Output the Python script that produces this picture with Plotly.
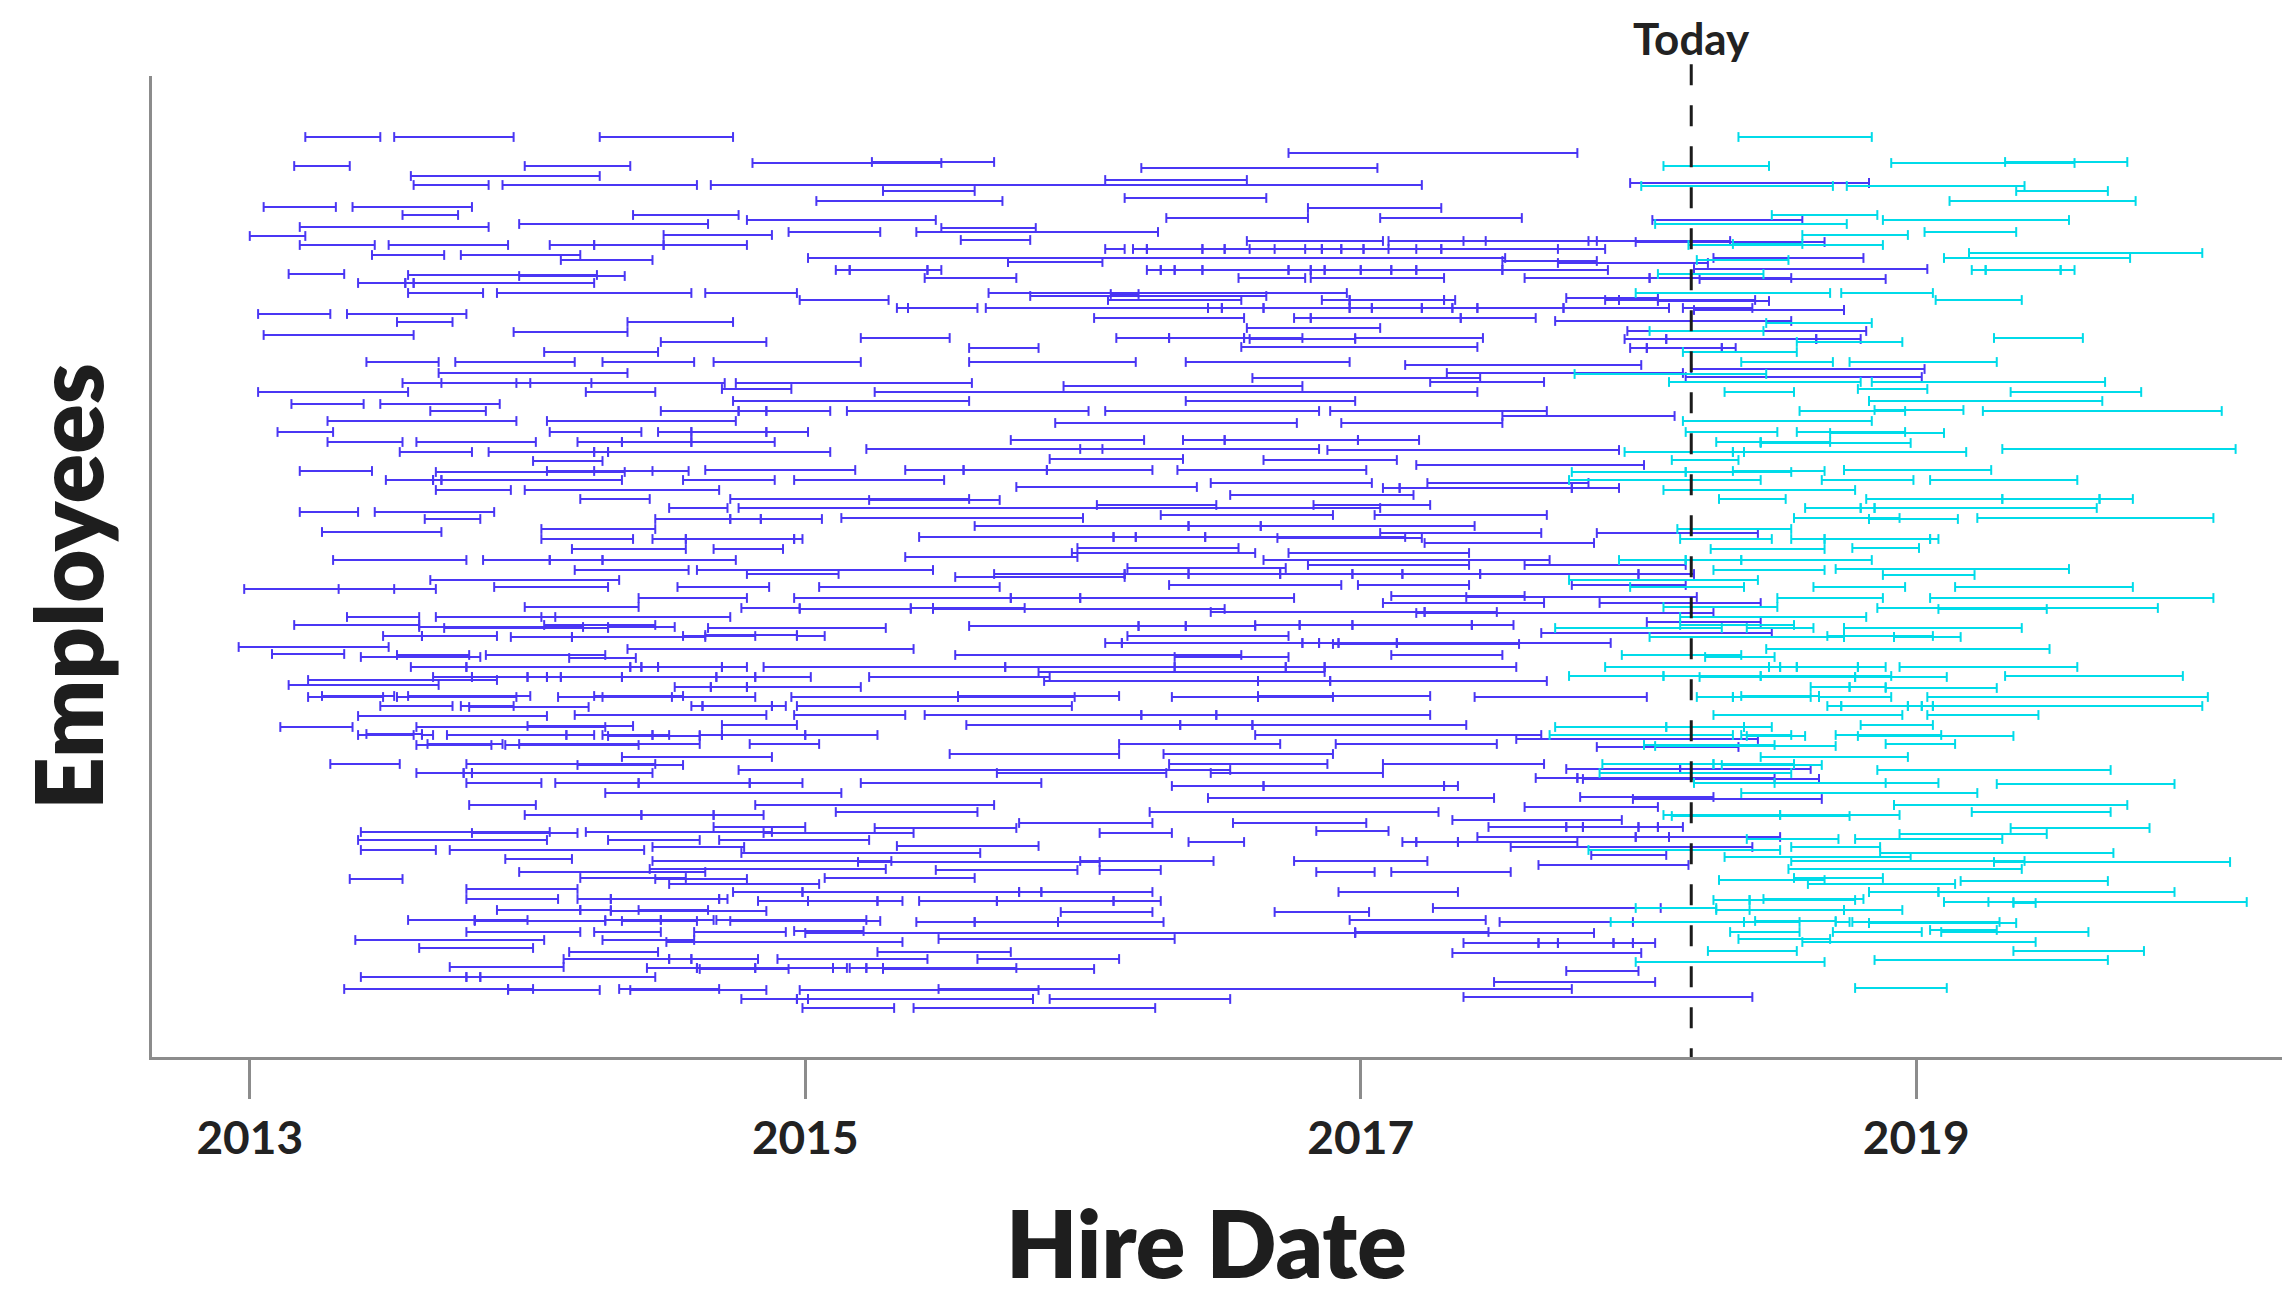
import plotly.graph_objects as go

# each tuple: (employee position, hire date, leave date) in decimal years
blue_top = [
    (92.0, 2013.20, 2013.47), (92.0, 2013.52, 2013.95), (92.0, 2014.26, 2014.74),
    (90.4, 2016.74, 2017.78), (89.4, 2014.81, 2015.49), (89.5, 2015.24, 2015.68),
    (89.1, 2013.16, 2013.36), (89.1, 2013.99, 2014.37), (88.9, 2016.21, 2017.06),
    (88.1, 2013.58, 2014.26), (87.7, 2016.08, 2016.59), (87.2, 2013.59, 2013.86),
    (87.2, 2013.91, 2014.61), (87.2, 2014.66, 2017.22), (87.4, 2017.97, 2018.83),
    (86.6, 2015.28, 2015.61), (85.9, 2016.15, 2016.66), (85.6, 2015.04, 2015.71),
    (85.0, 2013.05, 2013.31), (85.0, 2013.37, 2013.80), (84.9, 2016.81, 2017.29),
    (84.2, 2013.55, 2013.75), (84.2, 2014.38, 2014.76), (83.9, 2016.30, 2016.81),
    (83.9, 2017.07, 2017.58), (83.7, 2014.79, 2015.47), (83.7, 2018.05, 2018.59),
    (83.3, 2013.97, 2014.65), (83.0, 2013.18, 2013.86), (82.9, 2015.49, 2015.83),
    (82.5, 2014.94, 2015.27), (82.5, 2015.40, 2016.27), (82.2, 2014.49, 2014.88),
    (82.1, 2013.00, 2013.20), (81.7, 2015.56, 2015.81), (81.6, 2016.59, 2017.08),
    (81.6, 2017.10, 2017.45), (81.6, 2017.37, 2017.85), (81.6, 2017.82, 2018.33),
    (81.5, 2017.99, 2018.67), (81.2, 2013.18, 2013.45), (81.2, 2013.50, 2013.93),
    (81.2, 2014.08, 2014.24), (81.2, 2014.24, 2014.49), (81.2, 2014.49, 2014.79),
    (80.8, 2016.08, 2016.15), (80.8, 2016.18, 2016.23), (80.8, 2016.23, 2016.43),
    (80.8, 2016.43, 2016.51), (80.8, 2016.51, 2016.69), (80.8, 2016.60, 2016.86),
    (80.8, 2016.86, 2016.93), (80.8, 2016.93, 2017.01), (80.8, 2017.01, 2017.10),
    (80.8, 2016.80, 2017.29), (80.8, 2017.29, 2017.71), (80.8, 2017.20, 2017.88),
    (79.9, 2018.27, 2018.81), (80.2, 2013.44, 2013.70), (80.2, 2013.76, 2014.19),
    (79.9, 2015.01, 2017.52), (79.7, 2014.12, 2014.45), (79.5, 2015.73, 2016.07),
    (79.6, 2017.51, 2017.85), (79.4, 2017.71, 2018.25), (78.7, 2015.11, 2015.16),
    (78.7, 2015.16, 2015.44), (78.7, 2015.44, 2015.49), (78.7, 2016.23, 2016.28),
    (78.7, 2016.28, 2016.33), (78.7, 2016.33, 2016.43), (78.7, 2016.43, 2016.74),
    (78.7, 2016.74, 2016.82), (78.7, 2016.82, 2016.87), (78.7, 2016.87, 2017.00),
    (78.7, 2017.00, 2017.11), (78.7, 2017.11, 2017.20), (78.7, 2017.20, 2017.51),
    (78.7, 2017.51, 2017.89), (78.8, 2018.20, 2019.04), (78.3, 2013.14, 2013.34),
    (78.2, 2013.57, 2014.25), (78.1, 2013.97, 2014.35), (77.9, 2015.43, 2015.76),
    (77.9, 2016.56, 2016.80), (77.9, 2016.82, 2017.30), (77.9, 2017.59, 2018.04),
    (77.9, 2018.04, 2018.55), (77.8, 2018.22, 2018.89), (77.4, 2013.39, 2013.56),
    (77.4, 2013.56, 2013.59), (77.4, 2013.59, 2014.24), (76.4, 2013.57, 2013.84),
    (76.4, 2013.89, 2014.59), (76.4, 2014.64, 2014.97), (76.4, 2015.66, 2016.95),
    (76.1, 2015.81, 2016.66), (76.3, 2016.10, 2016.20), (75.7, 2014.98, 2015.30),
    (75.7, 2016.09, 2016.57), (75.7, 2016.86, 2016.96), (75.7, 2016.96, 2017.30),
    (75.7, 2017.30, 2017.34), (75.9, 2017.74, 2018.07), (75.7, 2017.88, 2017.93),
    (75.7, 2017.93, 2018.42), (75.6, 2018.07, 2018.47), (74.9, 2015.33, 2015.37),
    (74.9, 2015.37, 2015.62), (74.9, 2015.65, 2016.45), (74.9, 2016.45, 2016.50),
    (74.9, 2016.50, 2016.65), (74.9, 2016.65, 2016.96), (74.9, 2016.96, 2017.04),
    (74.9, 2017.04, 2017.22), (74.9, 2017.22, 2017.33), (74.9, 2017.33, 2017.42),
    (74.9, 2017.42, 2017.73), (74.9, 2017.73, 2018.11), (74.9, 2018.16, 2018.41),
    (74.7, 2018.20, 2018.74), (74.3, 2013.03, 2013.29), (74.3, 2013.35, 2013.78),
    (73.9, 2016.04, 2016.58), (73.9, 2016.76, 2016.82), (73.9, 2016.82, 2017.36),
    (73.9, 2017.36, 2017.63), (73.6, 2017.70, 2018.55), (73.5, 2013.53, 2013.73),
    (73.5, 2014.36, 2014.74), (72.9, 2016.59, 2017.07), (72.6, 2017.96, 2018.82),
    (72.5, 2013.95, 2014.36), (72.2, 2013.05, 2013.59), (71.5, 2014.48, 2014.86),
    (71.9, 2015.20, 2015.52), (71.9, 2016.12, 2016.31), (71.9, 2016.31, 2016.58),
    (71.9, 2016.58, 2016.79), (71.8, 2016.60, 2016.98), (71.9, 2016.98, 2017.44),
    (71.8, 2017.95, 2018.10), (71.8, 2018.10, 2018.64), (71.8, 2018.64, 2018.80),
    (70.9, 2015.59, 2015.84), (71.0, 2016.57, 2017.42), (70.9, 2017.97, 2018.03),
    (70.9, 2018.03, 2018.30), (70.9, 2018.30, 2018.35), (70.5, 2014.06, 2014.47),
    (69.5, 2013.42, 2013.68), (69.5, 2013.74, 2014.17), (69.5, 2014.27, 2014.60),
    (69.5, 2014.67, 2015.20), (69.5, 2015.59, 2016.19), (69.5, 2016.37, 2016.96),
    (69.2, 2017.16, 2018.01), (68.4, 2013.68, 2014.36), (68.8, 2018.19, 2019.03),
    (68.4, 2017.31, 2018.16), (68.0, 2018.17, 2019.02), (67.9, 2016.61, 2017.43),
    (67.4, 2013.55, 2013.96), (67.4, 2013.69, 2014.23), (67.4, 2014.01, 2014.71),
    (67.4, 2014.75, 2015.60), (67.5, 2017.25, 2017.66), (66.8, 2014.70, 2014.95),
    (66.5, 2013.03, 2013.57), (66.5, 2014.21, 2014.46), (67.1, 2015.93, 2016.79),
    (66.5, 2015.25, 2017.42), (65.6, 2014.74, 2015.59), (65.6, 2016.37, 2016.98),
    (65.3, 2013.15, 2013.41), (65.3, 2013.47, 2013.90), (64.6, 2013.65, 2013.85),
    (64.6, 2014.48, 2014.76), (64.6, 2014.76, 2014.86), (64.6, 2014.86, 2015.09),
    (64.6, 2015.15, 2016.02), (64.6, 2016.08, 2016.85), (64.6, 2016.89, 2017.67),
    (64.1, 2017.51, 2018.13), (63.6, 2013.28, 2013.96), (63.6, 2014.07, 2014.75),
    (63.4, 2015.90, 2016.77), (63.4, 2016.93, 2017.51),
]

blue_mid = [
    (62.5, 2013.10, 2013.30), (62.5, 2014.08, 2014.41), (62.5, 2014.47, 2014.59),
    (62.5, 2014.59, 2014.86), (62.5, 2014.86, 2015.01), (61.7, 2015.74, 2016.22),
    (61.7, 2016.36, 2016.51), (61.7, 2016.51, 2016.99), (61.7, 2016.99, 2017.21),
    (61.5, 2013.28, 2013.55), (61.5, 2013.60, 2014.03), (61.5, 2014.18, 2014.34),
    (61.5, 2014.34, 2014.59), (61.5, 2014.59, 2014.89), (60.8, 2015.22, 2016.07),
    (60.8, 2015.99, 2016.85), (60.7, 2016.88, 2017.93), (60.5, 2013.54, 2013.80),
    (60.5, 2013.86, 2014.24), (60.5, 2014.24, 2014.29), (60.5, 2014.29, 2015.09),
    (59.8, 2015.88, 2016.36), (59.7, 2016.65, 2017.13), (59.6, 2014.02, 2014.27),
    (59.2, 2017.20, 2018.02), (58.6, 2013.18, 2013.44), (58.5, 2013.67, 2014.35),
    (58.6, 2014.07, 2014.45), (58.6, 2014.24, 2014.58), (58.7, 2014.64, 2015.18),
    (58.7, 2015.36, 2015.57), (58.7, 2015.57, 2015.87), (58.7, 2015.87, 2016.25),
    (58.7, 2016.34, 2017.02), (57.7, 2013.49, 2013.66), (57.7, 2013.66, 2013.69),
    (57.7, 2013.69, 2014.34), (57.7, 2014.56, 2014.89), (57.7, 2014.96, 2015.50),
    (57.4, 2016.46, 2017.04), (57.4, 2017.24, 2017.82), (57.0, 2015.76, 2016.41),
    (56.9, 2017.08, 2017.14), (56.9, 2017.14, 2017.76), (56.9, 2017.76, 2017.93),
    (56.7, 2013.67, 2013.94), (56.7, 2013.99, 2014.69), (56.2, 2016.53, 2017.19),
    (55.8, 2014.19, 2014.44), (55.8, 2014.73, 2015.59), (55.7, 2015.23, 2015.70),
    (55.2, 2016.05, 2016.48), (55.2, 2016.83, 2017.25), (54.9, 2014.51, 2014.72),
    (54.9, 2014.76, 2017.07), (54.5, 2013.18, 2013.39), (54.5, 2013.45, 2013.88),
    (54.2, 2016.28, 2016.90), (54.2, 2017.05, 2017.67), (53.8, 2013.63, 2013.83),
    (53.8, 2014.46, 2014.73), (53.8, 2014.73, 2014.84), (53.8, 2014.84, 2015.06),
    (53.9, 2015.13, 2016.00), (53.1, 2015.61, 2016.38), (53.1, 2016.38, 2016.64),
    (53.1, 2016.64, 2017.41), (52.8, 2014.05, 2014.46), (52.5, 2013.26, 2013.69),
    (52.4, 2017.07, 2017.65), (52.4, 2017.85, 2018.43), (52.0, 2015.41, 2016.11),
    (52.0, 2016.11, 2016.19), (52.0, 2016.19, 2016.44), (52.0, 2016.44, 2017.16),
    (51.9, 2016.70, 2017.22), (51.8, 2014.05, 2014.38), (51.8, 2014.45, 2014.57),
    (51.8, 2014.57, 2014.96), (51.8, 2014.96, 2014.99), (51.4, 2017.23, 2017.84),
    (50.8, 2014.16, 2014.57), (50.8, 2014.67, 2014.92), (50.9, 2015.98, 2016.56),
    (50.4, 2015.96, 2016.62), (50.4, 2016.74, 2017.39), (50.0, 2015.36, 2015.98),
    (49.7, 2013.30, 2013.78), (49.7, 2013.84, 2014.08), (49.7, 2014.08, 2014.27),
    (49.7, 2014.27, 2014.75), (49.7, 2016.65, 2017.68), (49.2, 2016.81, 2017.39),
    (49.2, 2017.59, 2018.17), (48.9, 2016.16, 2016.73), (48.7, 2014.17, 2014.58),
    (48.7, 2014.61, 2015.46), (48.3, 2014.79, 2015.12), (48.3, 2015.68, 2016.15),
    (48.0, 2015.54, 2016.15), (48.3, 2016.15, 2016.38), (48.3, 2016.38, 2016.71),
    (48.3, 2016.71, 2016.97), (48.3, 2016.97, 2017.15), (48.3, 2017.15, 2017.43),
    (48.3, 2017.43, 2018.00), (48.3, 2018.00, 2018.20), (47.7, 2013.65, 2014.33),
    (47.0, 2013.88, 2014.29), (46.8, 2012.98, 2013.52), (46.8, 2013.32, 2013.67),
    (47.0, 2014.54, 2014.87), (47.0, 2015.05, 2015.70), (47.2, 2016.31, 2016.93),
    (47.2, 2016.99, 2017.39), (47.2, 2017.76, 2018.17), (45.9, 2014.40, 2014.79),
    (45.9, 2014.96, 2015.74), (45.9, 2015.74, 2015.99), (45.9, 2015.99, 2016.76),
    (46.1, 2017.11, 2017.59), (46.0, 2017.38, 2018.21), (45.4, 2017.08, 2017.66),
    (45.4, 2017.86, 2018.44), (45.0, 2013.99, 2014.40), (44.9, 2014.77, 2014.98),
    (44.8, 2014.98, 2015.38), (44.9, 2015.38, 2015.46), (44.9, 2015.46, 2015.79),
    (44.8, 2015.46, 2016.51), (44.5, 2016.46, 2017.23), (44.5, 2017.23, 2017.49),
    (44.4, 2017.20, 2018.27), (44.0, 2013.35, 2013.61), (44.0, 2013.67, 2014.10),
    (44.0, 2014.05, 2014.73), (43.2, 2013.16, 2013.61), (43.0, 2013.61, 2014.20),
    (42.9, 2013.70, 2014.29), (43.2, 2014.06, 2014.46), (43.0, 2014.29, 2014.53),
    (42.9, 2014.65, 2015.29), (43.1, 2015.59, 2016.20), (43.1, 2016.20, 2016.37),
    (43.1, 2016.37, 2016.62), (43.2, 2016.62, 2016.78), (43.2, 2016.78, 2016.97),
    (43.2, 2016.97, 2017.40), (43.2, 2017.40, 2017.55), (43.5, 2018.03, 2018.44),
    (42.4, 2017.65, 2018.48), (42.1, 2013.48, 2013.62), (42.1, 2013.62, 2013.89),
    (42.0, 2013.94, 2014.16), (42.0, 2014.16, 2014.64), (42.1, 2014.56, 2014.82),
    (42.2, 2014.64, 2014.97), (42.1, 2014.97, 2015.07), (42.1, 2016.16, 2016.74),
    (41.4, 2016.08, 2016.14), (41.4, 2016.14, 2016.79), (41.4, 2016.79, 2016.85),
    (41.4, 2016.85, 2016.92), (41.4, 2016.92, 2017.13), (41.3, 2016.90, 2017.57),
    (41.4, 2017.13, 2017.90), (41.0, 2012.96, 2013.50), (40.8, 2014.36, 2015.39),
    (40.2, 2015.54, 2016.57), (40.0, 2016.33, 2016.74), (40.2, 2017.11, 2017.51),
    (40.3, 2013.08, 2013.34), (40.0, 2013.40, 2013.83), (40.2, 2013.53, 2013.79),
    (40.2, 2013.85, 2014.28), (39.9, 2014.15, 2014.39), (39.0, 2013.58, 2013.78),
    (39.0, 2013.78, 2014.37), (39.0, 2014.37, 2014.41), (39.0, 2014.41, 2014.47),
    (39.0, 2014.47, 2014.70), (39.0, 2014.70, 2014.79), (39.0, 2014.85, 2015.72),
    (39.0, 2015.72, 2016.33), (39.0, 2016.33, 2016.73), (39.0, 2016.73, 2016.87),
    (39.0, 2016.87, 2017.56), (38.5, 2015.84, 2016.87), (37.7, 2013.21, 2013.89),
    (38.0, 2013.66, 2013.80), (38.0, 2013.80, 2014.00), (38.0, 2014.00, 2014.07),
    (38.0, 2014.07, 2014.12), (38.0, 2014.12, 2014.34), (38.0, 2014.34, 2014.68),
    (38.0, 2014.68, 2014.82), (38.0, 2014.82, 2015.02), (38.0, 2015.23, 2015.88),
    (37.6, 2015.86, 2016.63), (37.6, 2016.63, 2016.89), (37.6, 2016.89, 2017.67),
    (37.2, 2013.14, 2013.68), (37.0, 2014.53, 2014.66), (37.0, 2014.66, 2014.79),
    (37.0, 2014.79, 2015.20), (36.0, 2013.21, 2013.48), (36.1, 2013.26, 2013.52),
    (36.0, 2013.53, 2013.96), (36.1, 2013.57, 2014.01), (36.0, 2014.11, 2014.52),
    (36.1, 2014.24, 2014.56), (36.0, 2014.27, 2014.82), (36.0, 2014.95, 2015.55),
    (36.0, 2015.55, 2015.97), (36.1, 2015.55, 2016.13), (36.0, 2016.32, 2016.63),
    (36.0, 2016.63, 2016.90), (36.1, 2016.63, 2017.25), (36.0, 2017.41, 2018.03),
    (35.1, 2013.47, 2013.73), (35.1, 2013.76, 2013.95), (35.0, 2013.79, 2014.22),
    (35.1, 2014.59, 2014.63), (35.1, 2014.63, 2014.88), (35.1, 2014.88, 2014.93),
    (35.1, 2014.97, 2015.96), (34.1, 2013.39, 2014.07), (34.2, 2014.17, 2014.86),
    (34.2, 2014.96, 2015.36), (34.2, 2015.43, 2016.21), (34.2, 2016.21, 2016.48),
    (34.2, 2016.48, 2017.25), (33.0, 2013.11, 2013.37), (33.0, 2013.60, 2014.28),
    (33.1, 2014.00, 2014.38), (33.2, 2014.70, 2014.97), (33.2, 2015.58, 2016.35),
    (33.2, 2016.35, 2016.61), (33.2, 2016.61, 2017.38),
]

blue_low = [
    (32.2, 2013.39, 2013.59), (32.3, 2013.42, 2013.62), (32.2, 2013.62, 2013.66),
    (32.2, 2013.71, 2014.14), (32.2, 2014.14, 2014.24), (32.2, 2014.27, 2014.45),
    (32.2, 2014.45, 2014.51), (32.1, 2014.29, 2014.62), (32.2, 2014.62, 2014.70),
    (32.2, 2014.70, 2015.00), (32.2, 2015.00, 2015.26), (32.2, 2016.62, 2017.65),
    (31.8, 2017.56, 2018.43), (31.2, 2013.60, 2013.87), (31.3, 2013.64, 2013.91),
    (31.2, 2013.92, 2014.40), (31.3, 2013.97, 2014.62), (31.3, 2014.80, 2015.05),
    (31.3, 2016.13, 2016.71), (31.3, 2016.91, 2017.49), (31.0, 2017.85, 2018.36),
    (30.0, 2014.34, 2014.88), (30.3, 2015.52, 2016.13), (30.3, 2016.29, 2016.90),
    (29.3, 2013.29, 2013.54), (29.3, 2013.78, 2014.46), (29.2, 2014.18, 2014.56),
    (29.3, 2016.31, 2016.88), (28.7, 2014.76, 2016.53), (28.4, 2015.69, 2016.30),
    (28.4, 2016.46, 2017.08), (29.3, 2017.08, 2017.66), (28.8, 2017.74, 2018.15),
    (28.8, 2018.15, 2018.62), (28.4, 2013.60, 2013.77), (28.4, 2013.77, 2013.80),
    (28.4, 2013.80, 2014.45), (27.9, 2017.63, 2017.78), (27.9, 2017.78, 2018.49),
    (27.8, 2017.80, 2018.65), (27.4, 2013.78, 2014.05), (27.4, 2014.10, 2014.40),
    (27.4, 2014.40, 2014.80), (27.4, 2014.80, 2014.99), (27.4, 2015.20, 2015.85),
    (27.1, 2016.32, 2016.65), (27.1, 2016.65, 2017.30), (27.1, 2017.30, 2017.35),
    (26.4, 2014.28, 2015.13), (25.9, 2016.45, 2017.48), (26.0, 2017.79, 2018.27),
    (25.8, 2017.98, 2018.66), (25.2, 2013.79, 2014.03), (25.2, 2014.82, 2015.68),
    (24.2, 2013.99, 2014.41), (24.2, 2014.41, 2014.67), (24.2, 2014.67, 2014.85),
    (24.5, 2015.11, 2015.62), (24.5, 2016.24, 2017.28), (25.0, 2017.59, 2018.07),
    (23.0, 2014.67, 2015.00), (23.4, 2015.77, 2016.25), (23.4, 2016.54, 2017.02),
    (22.9, 2015.25, 2015.76), (23.7, 2017.33, 2017.94), (22.5, 2013.40, 2014.08),
    (22.4, 2013.80, 2014.18), (22.5, 2014.21, 2014.88), (22.4, 2014.85, 2015.39),
    (22.4, 2016.06, 2016.32), (23.0, 2017.46, 2017.74), (23.0, 2017.74, 2017.80),
    (23.0, 2017.80, 2018.00), (23.0, 2018.00, 2018.07), (23.0, 2018.07, 2018.16),
    (22.6, 2016.84, 2017.10), (22.0, 2017.42, 2017.99), (22.0, 2017.99, 2018.11),
    (22.0, 2018.11, 2018.51), (21.7, 2013.39, 2014.07), (21.7, 2014.29, 2014.62),
    (21.7, 2014.69, 2015.23), (21.5, 2016.38, 2016.58), (21.5, 2017.15, 2017.20),
    (21.5, 2017.20, 2017.35), (21.5, 2017.35, 2017.78), (21.0, 2014.45, 2014.78),
    (21.1, 2015.33, 2015.84), (21.0, 2017.54, 2018.41), (20.2, 2017.83, 2018.10),
    (20.7, 2013.40, 2013.67), (20.7, 2013.72, 2014.42), (20.4, 2014.77, 2015.63),
    (19.8, 2013.92, 2014.16), (19.6, 2014.45, 2015.31), (19.5, 2015.19, 2016.06),
    (19.6, 2015.99, 2016.47), (19.6, 2016.76, 2017.24), (19.2, 2017.64, 2018.18),
    (18.8, 2014.44, 2015.29), (18.7, 2015.47, 2015.98), (18.7, 2016.06, 2016.28),
    (18.5, 2013.97, 2014.64), (18.5, 2016.84, 2017.05), (18.5, 2017.11, 2017.54),
    (17.8, 2013.36, 2013.55), (17.9, 2014.19, 2014.57), (17.8, 2014.46, 2014.79),
    (17.9, 2015.07, 2015.61), (17.3, 2014.51, 2015.05), (16.8, 2013.78, 2014.18),
    (16.5, 2014.74, 2014.99), (16.5, 2014.99, 2015.77), (16.5, 2015.77, 2015.85),
    (16.5, 2015.85, 2016.25), (16.5, 2016.92, 2017.35), (15.8, 2013.78, 2014.11),
    (15.8, 2014.18, 2014.30), (15.8, 2014.30, 2014.69), (15.8, 2014.69, 2014.72),
    (15.6, 2014.83, 2015.01), (15.6, 2015.01, 2015.26), (15.6, 2015.26, 2015.35),
    (15.6, 2015.41, 2015.69), (15.6, 2015.69, 2016.11), (15.6, 2016.11, 2016.28),
    (14.9, 2017.26, 2018.08), (14.5, 2016.69, 2017.03), (14.7, 2013.89, 2014.19),
    (14.7, 2014.19, 2014.30), (14.7, 2014.40, 2014.65), (14.6, 2014.30, 2014.86),
    (14.5, 2015.92, 2016.25), (13.7, 2013.57, 2013.81), (13.7, 2013.81, 2014.00),
    (13.6, 2013.81, 2014.28), (13.7, 2014.28, 2014.48), (13.6, 2014.34, 2014.61),
    (13.7, 2014.48, 2014.67), (13.7, 2014.68, 2015.22), (13.6, 2014.73, 2015.27),
    (13.5, 2015.40, 2015.61), (13.5, 2015.61, 2015.91), (13.5, 2015.91, 2016.29),
    (13.7, 2016.96, 2017.45), (13.5, 2017.50, 2017.98), (12.5, 2013.78, 2014.19),
    (12.5, 2014.24, 2014.48), (12.5, 2014.60, 2014.93), (12.6, 2014.96, 2015.21),
    (12.4, 2015.00, 2016.98), (12.5, 2016.98, 2017.46), (12.4, 2016.98, 2017.84),
    (11.7, 2013.38, 2014.06), (11.7, 2014.27, 2014.60), (11.5, 2014.50, 2015.35),
    (11.8, 2015.48, 2016.33), (11.4, 2017.37, 2017.64), (11.4, 2017.64, 2017.71),
    (11.4, 2017.71, 2017.91), (11.4, 2017.91, 2017.98), (11.4, 2017.98, 2018.06),
    (10.9, 2013.61, 2014.02), (10.5, 2014.15, 2014.47), (10.5, 2015.26, 2015.74),
    (10.4, 2017.33, 2018.01), (9.8, 2014.13, 2014.51), (9.8, 2014.51, 2014.59),
    (9.8, 2014.59, 2014.83), (9.8, 2014.90, 2015.44), (9.8, 2015.62, 2016.13),
    (9.0, 2013.72, 2014.13), (8.9, 2014.43, 2014.61), (8.9, 2014.61, 2014.82),
    (8.8, 2014.62, 2014.94), (8.9, 2014.82, 2015.10), (8.9, 2015.10, 2015.15),
    (8.9, 2015.16, 2015.22), (8.9, 2015.22, 2015.28), (8.9, 2015.28, 2015.76),
    (8.8, 2015.28, 2016.04), (8.6, 2017.74, 2018.00), (8.0, 2013.40, 2013.78),
    (8.0, 2013.78, 2013.83), (8.0, 2013.83, 2014.46), (7.5, 2017.48, 2018.06),
    (6.8, 2013.34, 2013.93), (6.8, 2013.93, 2014.02), (6.7, 2013.93, 2014.26),
    (6.8, 2014.33, 2014.69), (6.7, 2014.37, 2014.86), (6.7, 2014.98, 2015.84),
    (6.8, 2015.48, 2017.76), (6.0, 2017.37, 2018.41), (5.8, 2014.77, 2014.97),
    (5.8, 2014.97, 2015.01), (5.8, 2015.01, 2015.82), (5.8, 2015.88, 2016.53),
    (4.9, 2014.99, 2015.32), (4.9, 2015.39, 2016.26),
]

cyan_top = [
    (92.0, 2018.36, 2018.84), (89.1, 2018.09, 2018.47), (89.4, 2018.91, 2019.57),
    (89.5, 2019.32, 2019.76), (87.1, 2018.01, 2018.70), (87.1, 2018.75, 2019.39),
    (86.6, 2019.36, 2019.69), (85.6, 2019.12, 2019.79), (84.2, 2018.48, 2018.86),
    (83.3, 2018.06, 2018.75), (83.7, 2018.88, 2019.55), (82.2, 2018.59, 2018.97),
    (82.5, 2019.03, 2019.36), (81.2, 2018.18, 2018.88), (81.3, 2018.34, 2018.59),
    (80.4, 2019.19, 2020.03), (79.9, 2019.10, 2019.77), (79.7, 2018.21, 2018.54),
    (78.7, 2019.20, 2019.25), (78.7, 2019.25, 2019.52), (78.7, 2019.52, 2019.57),
    (78.3, 2018.07, 2018.45), (76.4, 2017.99, 2018.69), (76.4, 2018.73, 2019.06),
    (75.7, 2019.07, 2019.38), (73.4, 2018.46, 2018.84), (72.6, 2018.04, 2018.45),
    (71.9, 2019.28, 2019.60), (71.5, 2018.57, 2018.95), (70.5, 2018.16, 2018.57),
    (69.5, 2018.37, 2018.70), (69.5, 2018.76, 2019.29), (68.3, 2017.77, 2018.46),
    (67.5, 2018.11, 2018.80), (67.5, 2018.84, 2019.68), (66.8, 2018.79, 2019.04),
    (66.5, 2019.34, 2019.81), (66.5, 2018.31, 2018.56), (65.6, 2018.83, 2019.67),
    (64.6, 2018.58, 2018.96), (64.7, 2018.85, 2019.17), (64.6, 2019.24, 2020.10),
    (63.6, 2018.16, 2018.84),
]

cyan_mid = [
    (62.5, 2018.17, 2018.50), (62.5, 2018.57, 2018.96), (62.4, 2018.69, 2019.10),
    (61.5, 2018.28, 2018.44), (61.5, 2018.44, 2018.69), (61.4, 2018.44, 2018.98),
    (60.5, 2017.95, 2018.34), (60.5, 2018.34, 2018.38), (60.5, 2018.38, 2019.18),
    (60.8, 2019.31, 2020.15), (59.7, 2018.12, 2018.36), (58.5, 2017.76, 2018.17),
    (58.5, 2018.17, 2018.55), (58.6, 2018.34, 2018.67), (58.7, 2018.74, 2019.27),
    (57.7, 2017.75, 2018.44), (57.7, 2018.66, 2018.99), (57.7, 2019.05, 2019.58),
    (56.7, 2018.09, 2018.78), (55.8, 2018.29, 2018.53), (55.8, 2018.82, 2019.31),
    (55.8, 2019.31, 2019.66), (55.8, 2019.66, 2019.78), (54.9, 2018.60, 2018.80),
    (54.9, 2018.80, 2018.85), (54.9, 2018.85, 2019.65), (53.9, 2018.56, 2018.94),
    (53.8, 2018.83, 2019.15), (53.9, 2019.22, 2020.07), (52.8, 2018.14, 2018.55),
    (51.8, 2018.15, 2018.48), (51.8, 2018.55, 2018.67), (51.8, 2018.67, 2019.05),
    (51.8, 2019.05, 2019.08), (50.8, 2018.26, 2018.67), (50.9, 2018.77, 2019.01),
    (49.7, 2017.93, 2018.17), (49.7, 2018.17, 2018.37), (49.7, 2018.37, 2018.84),
    (48.7, 2018.27, 2018.67), (48.8, 2018.71, 2019.55), (48.2, 2018.88, 2019.21),
    (47.7, 2017.75, 2018.43), (47.0, 2017.97, 2018.38), (47.0, 2018.63, 2018.96),
    (47.0, 2019.14, 2019.78), (45.9, 2018.50, 2018.88), (45.9, 2019.05, 2020.07),
    (45.0, 2018.09, 2018.50), (44.9, 2018.86, 2019.87), (44.8, 2019.08, 2019.47),
    (44.0, 2018.15, 2018.82), (43.2, 2018.15, 2018.56), (42.9, 2017.70, 2018.30),
    (42.9, 2018.39, 2018.63), (42.9, 2018.74, 2019.38), (42.0, 2018.04, 2018.74),
    (42.1, 2018.68, 2019.06), (42.0, 2018.92, 2019.16), (40.8, 2018.46, 2019.48),
    (40.2, 2017.94, 2018.37), (40.0, 2018.24, 2018.49), (39.0, 2017.88, 2018.47),
    (39.0, 2018.47, 2018.51), (39.0, 2018.51, 2018.57), (39.0, 2018.57, 2018.79),
    (39.0, 2018.79, 2018.89), (39.0, 2018.94, 2019.58), (38.1, 2017.75, 2018.09),
    (38.1, 2018.09, 2018.44), (38.0, 2018.22, 2018.78), (38.1, 2018.44, 2018.91),
    (38.0, 2018.78, 2019.11), (38.1, 2019.32, 2019.96), (37.0, 2018.62, 2018.76),
    (37.0, 2018.76, 2018.89), (36.9, 2018.89, 2019.29), (36.0, 2018.21, 2018.34),
    (36.0, 2018.34, 2018.62), (36.1, 2018.37, 2018.65), (36.0, 2018.65, 2018.91),
    (36.0, 2019.04, 2020.05), (35.1, 2018.68, 2018.73), (35.1, 2018.73, 2018.97),
    (35.1, 2018.97, 2019.02), (35.1, 2019.02, 2019.06), (35.1, 2019.06, 2020.03),
    (34.2, 2018.27, 2018.95), (34.2, 2019.04, 2019.44), (33.0, 2017.70, 2018.10),
    (33.0, 2018.10, 2018.38), (33.0, 2018.38, 2018.48), (33.2, 2018.80, 2019.06),
]

cyan_low = [
    (32.2, 2017.68, 2018.34), (32.2, 2018.37, 2018.55), (32.1, 2018.39, 2018.60),
    (32.2, 2018.71, 2019.09), (32.1, 2018.79, 2019.35), (31.2, 2018.02, 2018.49),
    (31.1, 2018.06, 2018.71), (31.3, 2018.89, 2019.14), (30.0, 2018.44, 2018.97),
    (29.3, 2017.87, 2018.27), (29.3, 2018.27, 2018.56), (29.2, 2018.30, 2018.66),
    (28.4, 2017.86, 2018.55), (28.7, 2018.86, 2019.70), (27.4, 2018.20, 2018.89),
    (27.4, 2018.49, 2019.08), (27.3, 2019.29, 2019.93), (26.4, 2018.37, 2019.22),
    (25.2, 2018.92, 2019.76), (24.2, 2018.09, 2018.51), (24.1, 2018.12, 2018.76),
    (24.2, 2018.51, 2018.94), (24.5, 2019.20, 2019.70), (22.9, 2019.34, 2019.84),
    (21.8, 2018.39, 2018.72), (21.8, 2018.78, 2019.31), (22.3, 2018.94, 2019.47),
    (20.7, 2017.82, 2018.51), (21.0, 2018.55, 2018.87), (20.0, 2018.31, 2018.98),
    (20.4, 2018.87, 2019.71), (19.6, 2018.55, 2019.39), (19.5, 2019.28, 2020.13),
    (18.8, 2018.54, 2019.38), (17.7, 2018.29, 2018.67), (17.9, 2018.56, 2018.88),
    (17.6, 2019.16, 2019.69), (17.3, 2018.61, 2019.14), (16.5, 2018.83, 2019.08),
    (16.5, 2019.08, 2019.93), (15.7, 2018.27, 2018.40), (15.7, 2018.40, 2018.78),
    (15.8, 2018.45, 2018.81), (15.5, 2019.10, 2019.35), (15.4, 2019.35, 2019.43),
    (15.5, 2019.26, 2020.19), (14.9, 2017.99, 2018.28), (14.7, 2018.28, 2018.74),
    (14.7, 2018.40, 2018.95), (13.5, 2017.90, 2018.38), (13.5, 2018.38, 2018.58),
    (13.6, 2018.42, 2018.71), (13.5, 2018.71, 2018.76), (13.5, 2018.77, 2019.30),
    (13.4, 2018.83, 2019.36), (12.5, 2018.33, 2018.58), (12.5, 2018.70, 2019.02),
    (12.7, 2019.05, 2019.29), (12.5, 2019.09, 2019.62), (11.8, 2018.36, 2018.69),
    (11.5, 2018.59, 2019.43), (10.6, 2018.25, 2018.57), (10.6, 2019.35, 2019.82),
    (9.5, 2017.99, 2018.67), (9.7, 2018.85, 2019.69), (6.9, 2018.78, 2019.11),
]

today = 2018.19
year_ticks = [2013, 2015, 2017, 2019]

BLUE = "#4a36f4"
CYAN = "#00dbe9"
FONT = "Lato"


def segments(rows):
    xs, ys = [], []
    for emp, hired, left in rows:
        xs += [hired, left, None]
        ys += [emp, emp, None]
    return xs, ys


fig = go.Figure()
for rows, col in [(blue_top + blue_mid + blue_low, BLUE),
                  (cyan_top + cyan_mid + cyan_low, CYAN)]:
    xs, ys = segments(rows)
    fig.add_trace(go.Scatter(
        x=xs, y=ys, mode="lines+markers",
        line=dict(color=col, width=2),
        marker=dict(symbol="line-ns", size=7, line=dict(width=2, color=col)),
        hoverinfo="skip", showlegend=False))

fig.add_shape(type="line", xref="x", yref="paper", x0=today, x1=today,
              y0=1.012, y1=0, line=dict(color="#1b1b1b", width=3, dash="21px,20px"))

fig.add_annotation(x=today, xref="x", y=1.039, yref="paper", text="Today",
                   xanchor="center", yanchor="middle", showarrow=False,
                   font=dict(family=FONT, size=44, color="#222", weight=700))
fig.add_annotation(x=0.495, xref="paper", y=-0.189, yref="paper", text="Hire Date",
                   xanchor="center", yanchor="middle", showarrow=False,
                   font=dict(family=FONT, size=92, color="#1e1e1e", weight=800))
fig.add_annotation(x=-0.040, xref="paper", y=0.48, yref="paper", text="Employees",
                   textangle=-90, xanchor="center", yanchor="middle", showarrow=False,
                   font=dict(family=FONT, size=92, color="#1e1e1e", weight=800))

fig.update_xaxes(range=[2012.648, 2020.317], tickvals=year_ticks,
                 ticktext=[str(v) for v in year_ticks],
                 showgrid=False, zeroline=False, showline=True,
                 linecolor="#8c8c8c", linewidth=3, ticks="outside", ticklen=39,
                 tickwidth=2.5, tickcolor="#8c8c8c",
                 tickfont=dict(family=FONT, size=46, color="#222", weight=700))
fig.update_yaxes(range=[0, 98.1], showgrid=False, zeroline=False, showline=True,
                 linecolor="#8c8c8c", linewidth=3, showticklabels=False, ticks="")

fig.update_layout(width=2274, height=1293, plot_bgcolor="white", paper_bgcolor="white",
                  margin=dict(l=144, r=0, t=68, b=244))

fig.write_html("out.html")
